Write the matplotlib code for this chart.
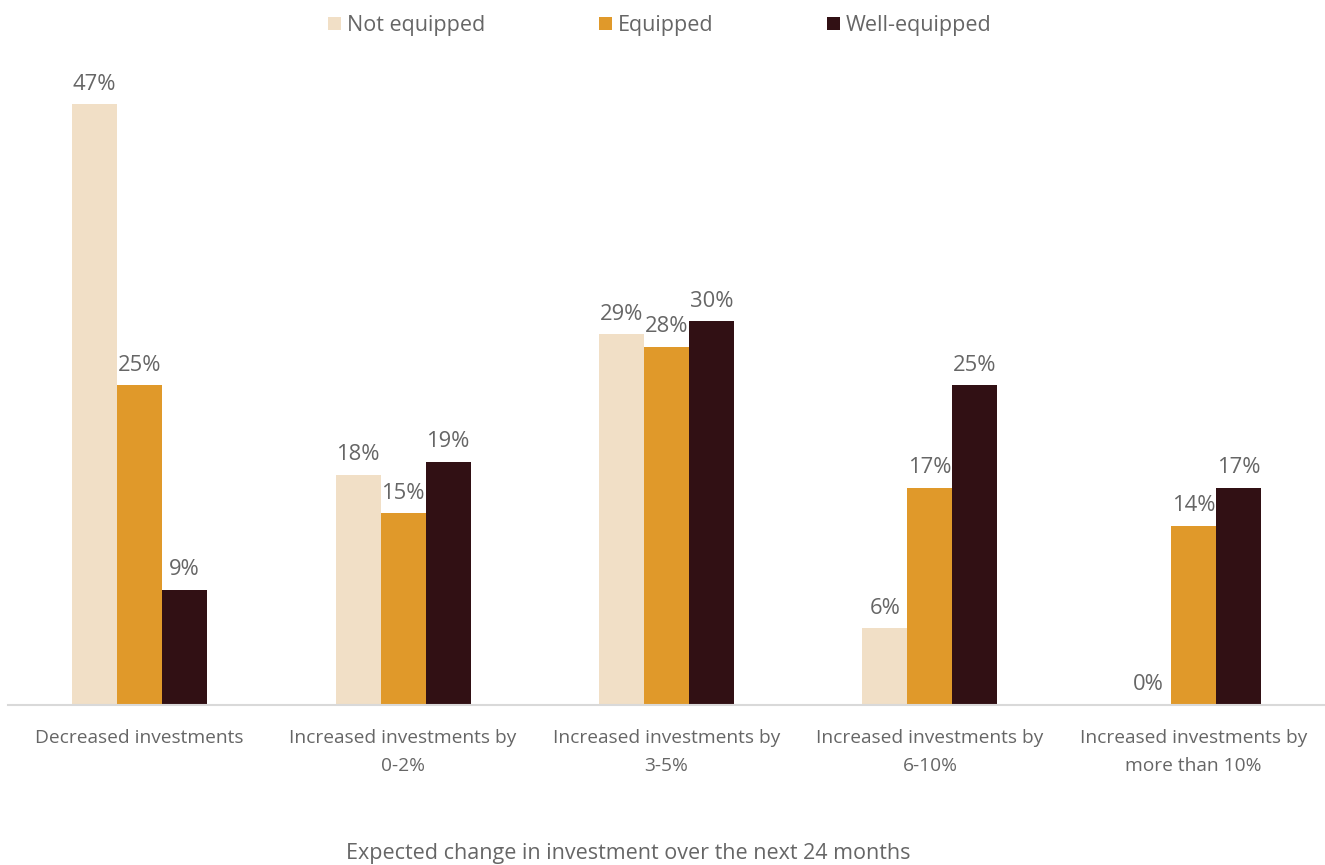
import numpy as np
import matplotlib.pyplot as plt

plt.rcParams['font.family'] = ['Open Sans', 'DejaVu Sans']

categories = ['Decreased investments', 'Increased investments by\n0-2%',
              'Increased investments by\n3-5%', 'Increased investments by\n6-10%',
              'Increased investments by\nmore than 10%']
series = ['Not equipped', 'Equipped', 'Well-equipped']
not_equipped = [47, 18, 29, 6, 0]
equipped = [25, 15, 28, 17, 14]
well_equipped = [9, 19, 30, 25, 17]
colors = ['#F1DFC6', '#E0992A', '#311014']

text_color = '#666666'

fig = plt.figure(figsize=(13.25, 8.65), dpi=100)
ax = fig.add_axes([0.006, 0.185, 0.994, 0.739])

x = np.arange(len(categories))
w = 0.171
for i, (name, vals, c) in enumerate(zip(series, [not_equipped, equipped, well_equipped], colors)):
    pos = x + (i - 1) * w
    bars = ax.bar(pos, vals, w, color=c, label=name)
    for b, v in zip(bars, vals):
        ax.text(b.get_x() + b.get_width() / 2, v + 0.75, f'{v}%', ha='center', va='bottom',
                fontsize=15.8, color=text_color)

ax.set_xlim(-0.5, 4.5)
ax.set_ylim(0, 50)
ax.set_yticks([])
ax.set_xticks(x)
ax.set_xticklabels(categories, fontsize=13.8, color=text_color, linespacing=1.75)
ax.tick_params(axis='x', length=0, pad=17)
for s in ['top', 'right', 'left']:
    ax.spines[s].set_visible(False)
ax.spines['bottom'].set_color('#D9D9D9')
ax.spines['bottom'].set_linewidth(1.5)

fig.text(628 / 1325, 1 - 853 / 865, 'Expected change in investment over the next 24 months',
         fontsize=15.5, color=text_color, ha='center', va='center')

leg = fig.legend(loc='upper center', bbox_to_anchor=(0.498, 1.005), ncol=3, frameon=False,
                 fontsize=15.5, handlelength=0.6, handleheight=0.6, handletextpad=0.25,
                 columnspacing=5.3)
for t in leg.get_texts():
    t.set_color(text_color)

fig.savefig('out.png', dpi=100)
